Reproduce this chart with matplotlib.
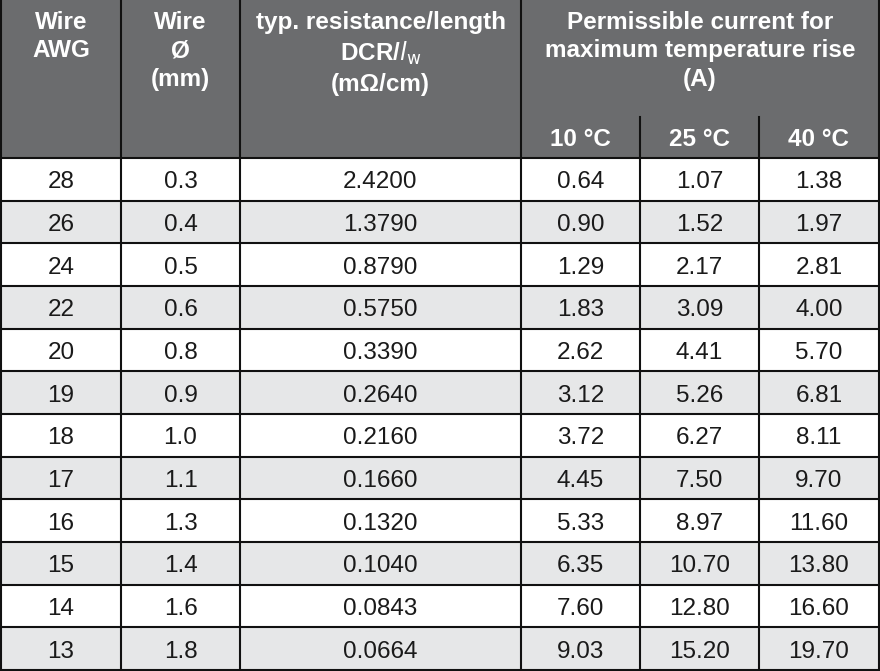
import matplotlib
matplotlib.use("Agg")
import matplotlib.pyplot as plt
from matplotlib.patches import Rectangle

awg = ["28","26","24","22","20","19","18","17","16","15","14","13"]
dia = ["0.3","0.4","0.5","0.6","0.8","0.9","1.0","1.1","1.3","1.4","1.6","1.8"]
dcr = ["2.4200","1.3790","0.8790","0.5750","0.3390","0.2640","0.2160","0.1660","0.1320","0.1040","0.0843","0.0664"]
i10 = ["0.64","0.90","1.29","1.83","2.62","3.12","3.72","4.45","5.33","6.35","7.60","9.03"]
i25 = ["1.07","1.52","2.17","3.09","4.41","5.26","6.27","7.50","8.97","10.70","12.80","15.20"]
i40 = ["1.38","1.97","2.81","4.00","5.70","6.81","8.11","9.70","11.60","13.80","16.60","19.70"]
sub = ["10 °C", "25 °C", "40 °C"]

plt.rcParams['font.family'] = ['Liberation Sans', 'DejaVu Sans']
W, H = 880, 671
fig = plt.figure(figsize=(W/100, H/100), dpi=100)
ax = fig.add_axes([0, 0, 1, 1])
ax.set_xlim(0, W); ax.set_ylim(H, 0); ax.axis('off')

xs = [1, 121, 240, 521, 640, 759, 879]
hdr = "#6b6c6e"
subtop, body = 117, 158
rh = (H - 1 - body) / 12
ax.add_patch(Rectangle((0, 0), W, body, color=hdr, lw=0))
cols = [awg, dia, dcr, i10, i25, i40]
for r in range(12):
    y0 = body + r * rh
    if r % 2 == 1:
        ax.add_patch(Rectangle((xs[0], y0), xs[-1]-xs[0], rh, color="#e6e7e8", lw=0))
    for c in range(6):
        ax.text((xs[c]+xs[c+1])/2, y0 + rh/2 + 3, cols[c][r], ha='center', va='center',
                fontsize=17.5, color="#1a1a1a")
    ax.plot([xs[0], xs[-1]], [y0, y0], color='#111', lw=1.5)
ax.plot([xs[0], xs[-1]], [H-1, H-1], color='#111', lw=1.5)
for i, x in enumerate(xs):
    ystart = subtop if i in (4, 5) else 0
    ax.plot([x, x], [ystart, H-1], color='#111', lw=1.5)

hkw = dict(ha='center', va='top', fontsize=17.5, color='white', fontweight='bold', linespacing=1.3)
ax.text((xs[0]+xs[1])/2, 11, "Wire\nAWG", **hkw)
ax.text((xs[1]+xs[2])/2, 11, "Wire\nØ\n(mm)", **hkw)
ax.text((xs[2]+xs[3])/2, 11, "typ. resistance/length\nDCR/$\\mathit{l}_{\\rm w}$\n(mΩ/cm)", **hkw)
ax.text((xs[3]+xs[6])/2, 11, "Permissible current for\nmaximum temperature rise\n(A)", **hkw)
for c in range(3):
    ax.text((xs[3+c]+xs[4+c])/2, 139, sub[c], ha='center', va='center', fontsize=17.5,
            color='white', fontweight='bold')
fig.savefig("out.png", dpi=100)
